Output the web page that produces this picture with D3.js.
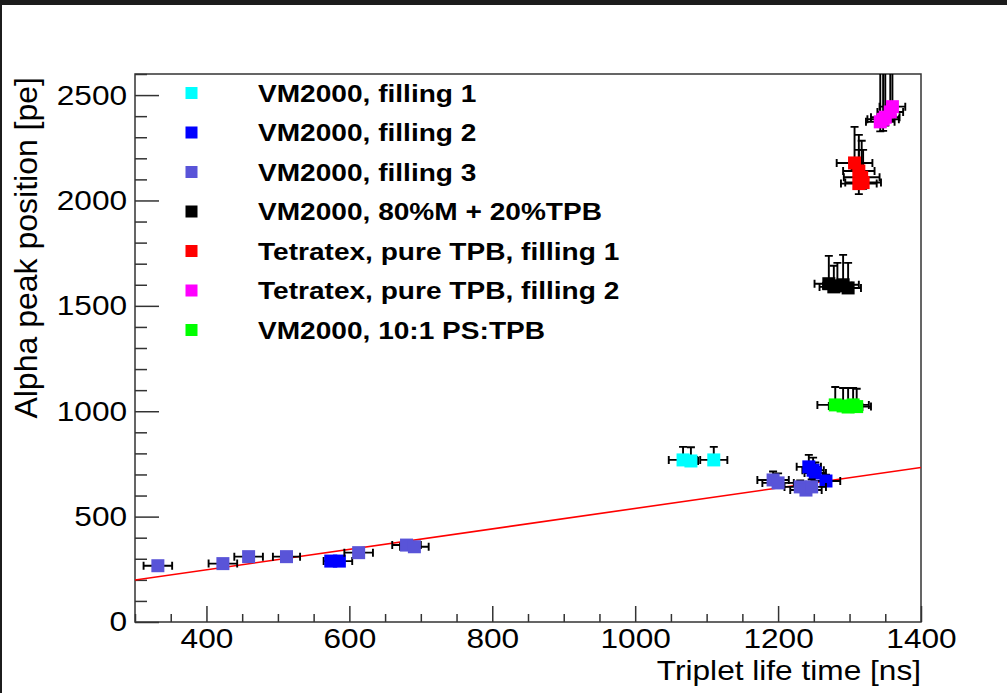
<!DOCTYPE html>
<html>
<head>
<meta charset="utf-8">
<script src="https://cdnjs.cloudflare.com/ajax/libs/d3/7.8.5/d3.min.js"></script>
<style>
  body { margin: 0; background: #fff; }
  svg { display: block; font-family: "Liberation Sans", Arial, Helvetica, sans-serif; }
</style>
</head>
<body>
<div id="chart"></div>
<script>
// points: [x (ns), y (pe), x error, y error down, y error up]
var filling1 = [[1067, 769, 20, 20, 62], [1078, 764, 10, 20, 65], [1110, 769, 19, 20, 62]];
var filling2 = [[574, 289, 10, 10, 10], [586, 289, 18, 10, 10],
                [1243, 736, 17, 20, 57], [1249, 720, 15, 20, 60], [1252, 707, 15, 20, 50], [1267, 669, 20, 20, 30]];
var filling3 = [[332, 267, 20, 10, 10], [423, 277, 20, 10, 10], [459, 310, 20, 10, 10], [512, 310, 19, 10, 10],
                [613, 329, 20, 10, 10], [680, 365, 20, 10, 10], [691, 357, 20, 10, 10],
                [1193, 674, 22, 15, 40], [1200, 660, 22, 15, 45], [1231, 641, 22, 15, 30], [1239, 626, 22, 15, 30], [1247, 641, 20, 15, 35]];
var mixTPB = [[1271, 1605, 20, 20, 132], [1283, 1595, 20, 20, 109], [1291, 1600, 22, 20, 142], [1298, 1585, 18, 20, 119], [1278, 1590, 20, 20, 100]];
var tetra1 = [[1307, 2178, 25, 30, 171], [1313, 2140, 22, 30, 171], [1317, 2110, 25, 30, 173], [1313, 2080, 25, 50, 160], [1319, 2085, 25, 30, 155]];
var tetra2 = [[1343, 2373, 20, 45, 250], [1350, 2395, 20, 40, 260], [1357, 2420, 18, 40, 240], [1360, 2445, 18, 40, 230], [1347, 2385, 22, 55, 250]];
var psTPB = [[1280, 1030, 25, 20, 85], [1291, 1025, 20, 20, 85], [1298, 1020, 20, 20, 90], [1305, 1030, 22, 20, 80], [1310, 1022, 20, 20, 85]];

var seriesNames = ["VM2000, filling 1", "VM2000, filling 2", "VM2000, filling 3", "VM2000, 80%M + 20%TPB",
                   "Tetratex, pure TPB, filling 1", "Tetratex, pure TPB, filling 2", "VM2000, 10:1 PS:TPB"];
var seriesColors = ["#00ffff", "#0000ff", "#5954d8", "#000000", "#ff0000", "#ff00ff", "#00ff00"];
var seriesData = [filling1, filling2, filling3, mixTPB, tetra1, tetra2, psTPB];

// linear fit
var fitX = [300, 1400];
var fitY = [199, 733];

var xMajor = [400, 600, 800, 1000, 1200, 1400];
var yMajor = [0, 500, 1000, 1500, 2000, 2500];

var width = 1007, height = 693;
var frame = { left: 135, right: 921, top: 74, bottom: 622 };
var stretch = 1.13; // text in the picture is a bit wider than the font

var svg = d3.select("#chart").append("svg")
    .attr("width", width)
    .attr("height", height);

// dark border of the screenshot
svg.append("rect").attr("x", 0).attr("y", 0).attr("width", width).attr("height", 5).attr("fill", "#1c1c1c");
svg.append("rect").attr("x", 0).attr("y", 0).attr("width", 2).attr("height", height).attr("fill", "#1c1c1c");

var x = d3.scaleLinear().domain([300, 1400]).range([frame.left, frame.right]);
var y = d3.scaleLinear().domain([0, 2600]).range([frame.bottom, frame.top]);

svg.append("clipPath").attr("id", "clip")
    .append("rect")
    .attr("x", frame.left).attr("y", frame.top)
    .attr("width", frame.right - frame.left).attr("height", frame.bottom - frame.top);

//minor ticks
var xMinor = d3.range(300, 1401, 50).filter(function (d) { return xMajor.indexOf(d) < 0; });
var yMinor = d3.range(0, 2601, 100).filter(function (d) { return yMajor.indexOf(d) < 0; });

var axisColor = "#333";

svg.append("g")
    .attr("transform", "translate(0," + frame.bottom + ")")
    .call(d3.axisBottom(x).tickValues(xMinor).tickSize(-8).tickFormat(""))
    .call(function (g) { g.select(".domain").remove(); });

var gx = svg.append("g")
    .attr("transform", "translate(0," + frame.bottom + ")")
    .call(d3.axisBottom(x).tickValues(xMajor).tickSize(-16).tickPadding(6).tickFormat(d3.format("d")));
gx.select(".domain").remove();

svg.append("g")
    .attr("transform", "translate(" + frame.left + ",0)")
    .call(d3.axisLeft(y).tickValues(yMinor).tickSize(-12).tickFormat(""))
    .call(function (g) { g.select(".domain").remove(); });

var gy = svg.append("g")
    .attr("transform", "translate(" + frame.left + ",0)")
    .call(d3.axisLeft(y).tickValues(yMajor).tickSize(-24).tickPadding(7).tickFormat(d3.format("d")));
gy.select(".domain").remove();

svg.selectAll(".tick line").attr("stroke", axisColor).attr("stroke-width", 1.5);

gx.selectAll("text")
    .attr("font-size", 28)
    .attr("fill", "#000")
    .attr("font-family", null)
    .attr("dy", "0.72em")
    .attr("transform", "scale(" + stretch + ",1)");

gy.selectAll("text")
    .attr("font-size", 28)
    .attr("fill", "#000")
    .attr("font-family", null)
    .attr("transform", "scale(" + stretch + ",1)");

// frame
svg.append("rect")
    .attr("x", frame.left).attr("y", frame.top)
    .attr("width", frame.right - frame.left).attr("height", frame.bottom - frame.top)
    .attr("fill", "none")
    .attr("stroke", axisColor)
    .attr("stroke-width", 1.5);

// axis titles
svg.append("text")
    .attr("transform", "translate(" + frame.right + ",680) scale(" + stretch + ",1)")
    .attr("text-anchor", "end")
    .attr("font-size", 28)
    .text("Triplet life time [ns]");

svg.append("text")
    .attr("transform", "translate(37,77) rotate(-90)")
    .attr("text-anchor", "end")
    .attr("font-size", 32)
    .text("Alpha peak position [pe]");

var plot = svg.append("g").attr("clip-path", "url(#clip)");

// fit line
plot.append("line")
    .attr("x1", x(fitX[0])).attr("y1", y(fitY[0]))
    .attr("x2", x(fitX[1])).attr("y2", y(fitY[1]))
    .attr("stroke", "#ff0000")
    .attr("stroke-width", 1.6);

var cap = 4;
var msize = 13;

seriesData.forEach(function (data, s) {
    var g = plot.append("g").attr("class", "series" + s);

    g.selectAll(".err")
        .data(data)
        .enter()
        .append("path")
        .attr("class", "err")
        .attr("fill", "none")
        .attr("stroke", "#000")
        .attr("stroke-width", 1.9)
        .attr("d", function (d) {
            var cx = x(d[0]), cy = y(d[1]);
            var xl = x(d[0] - d[2]), xr = x(d[0] + d[2]);
            var yl = y(d[1] - d[3]), yh = y(d[1] + d[4]);
            return "M" + xl + "," + cy + "H" + xr +
                "M" + xl + "," + (cy - cap) + "V" + (cy + cap) +
                "M" + xr + "," + (cy - cap) + "V" + (cy + cap) +
                "M" + cx + "," + yl + "V" + yh +
                "M" + (cx - cap) + "," + yl + "H" + (cx + cap) +
                "M" + (cx - cap) + "," + yh + "H" + (cx + cap);
        });

    g.selectAll(".marker")
        .data(data)
        .enter()
        .append("rect")
        .attr("class", "marker")
        .attr("x", function (d) { return x(d[0]) - msize / 2; })
        .attr("y", function (d) { return y(d[1]) - msize / 2; })
        .attr("width", msize)
        .attr("height", msize)
        .attr("fill", seriesColors[s]);
});

// legend
var legendY = d3.scaleLinear().domain([0, 6]).range([93, 330]);

var legend = svg.selectAll(".legend")
    .data(seriesNames)
    .enter()
    .append("g")
    .attr("class", "legend")
    .attr("transform", function (d, i) { return "translate(0," + legendY(i) + ")"; });

legend.append("rect")
    .attr("x", 185.5)
    .attr("y", -6)
    .attr("width", 12)
    .attr("height", 12)
    .attr("fill", function (d, i) { return seriesColors[i]; });

legend.append("text")
    .attr("transform", "translate(258,8.5) scale(1.17,1)")
    .attr("font-size", 24)
    .attr("font-weight", "bold")
    .text(function (d) { return d; });
</script>
</body>
</html>
